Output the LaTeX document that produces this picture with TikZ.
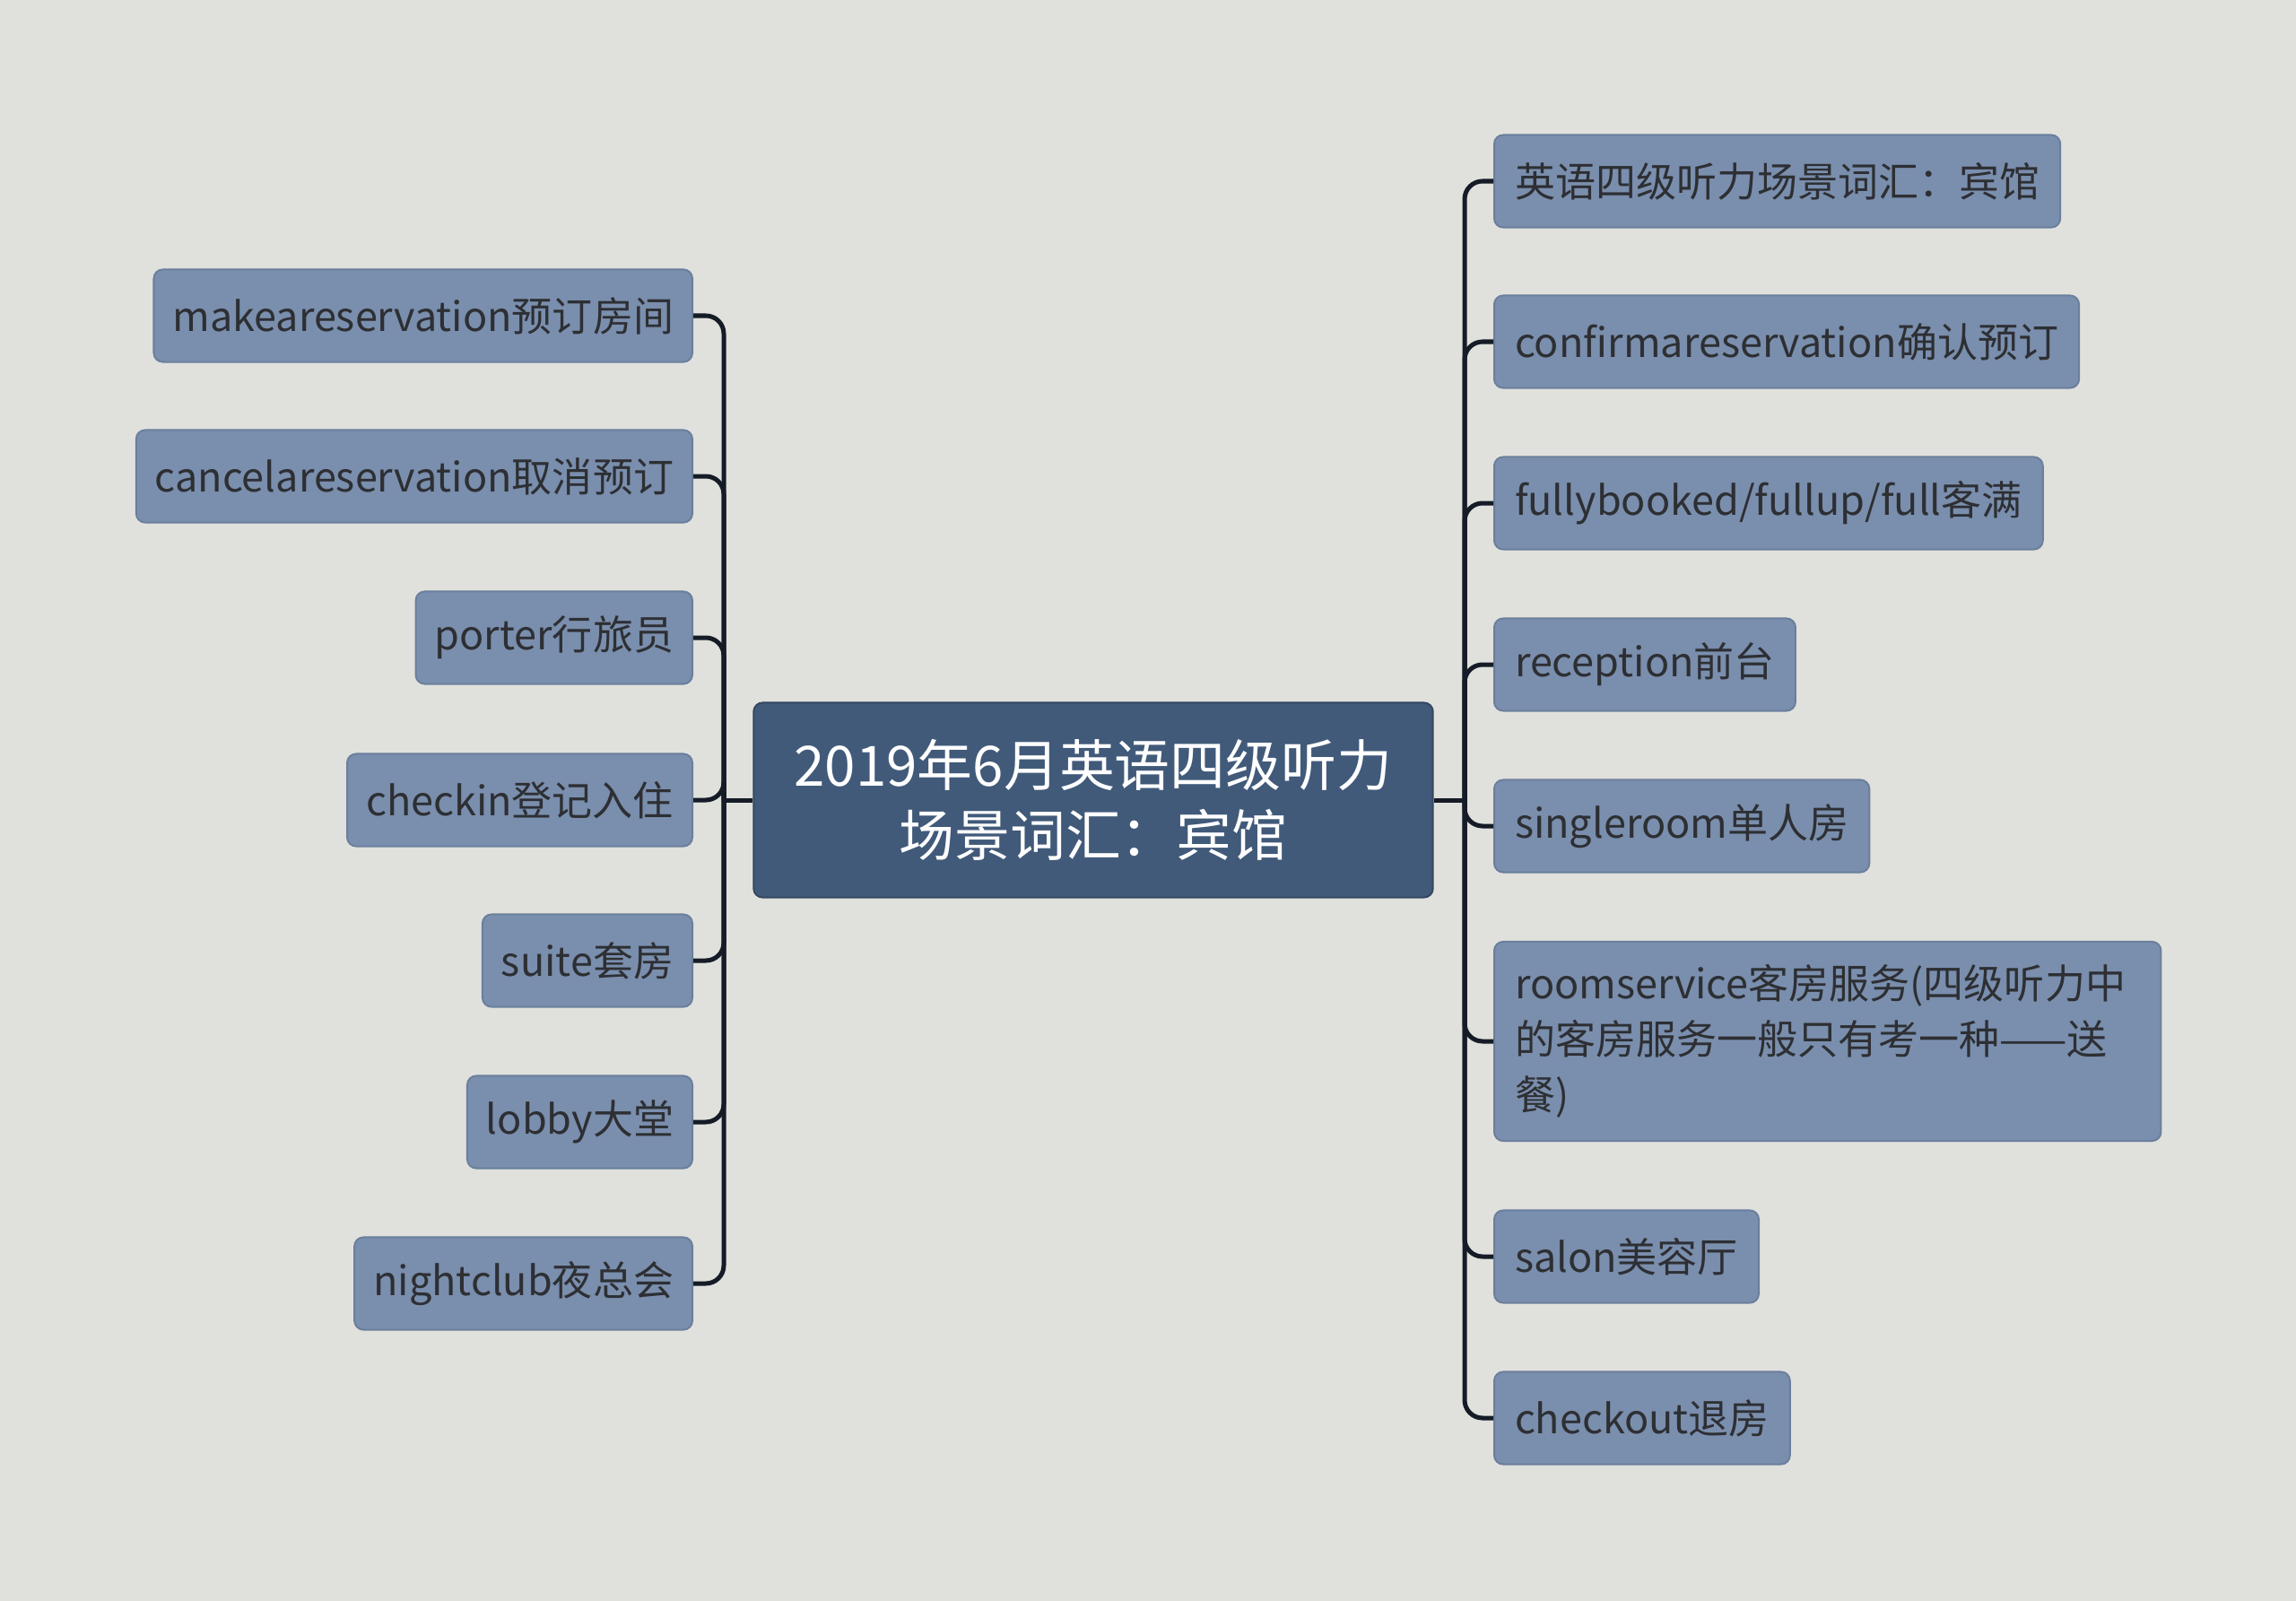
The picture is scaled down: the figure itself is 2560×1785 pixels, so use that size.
\documentclass[tikz,border=0pt]{standalone}
\usepackage{fontspec}
\setmainfont{Noto Sans CJK SC}
\usepackage{xcolor}
\usepackage{tikz}

\definecolor{bgcol}{HTML}{E0E1DC}
\definecolor{leafcol}{HTML}{7A8EAD}
\definecolor{leafline}{HTML}{6B7F9D}
\definecolor{leaftext}{HTML}{2D2F33}
\definecolor{rootcol}{HTML}{415A7A}
\definecolor{linkcol}{HTML}{151C27}

\tikzset{
  leaf/.style={rectangle, rounded corners=0.1cm, fill=leafcol, draw=leafline,
    line width=0.02cm, text=leaftext, inner xsep=0.23cm, inner ysep=0.1cm,
    minimum height=1.03cm, font=\fontsize{12.8pt}{17.6pt}\selectfont},
  leafl/.style={leaf, anchor=east, inner xsep=0.21cm},
  leafr/.style={leaf, anchor=west},
  link/.style={draw=linkcol, line width=0.05cm, rounded corners=0.2cm}
}

\begin{document}
\begin{tikzpicture}[x=0.01cm,y=-0.01cm]
    % Background
    \fill[bgcol] (0,0) rectangle (2560,1785);

    % Root
    \node[rectangle, rounded corners=0.1cm, fill=rootcol, draw=rootcol!80!black,
      line width=0.02cm, text=white, minimum width=7.57cm, minimum height=2.17cm,
      align=center, font=\fontsize{17.6pt}{22.2pt}\selectfont]
      (root) at (1219,892) {2019年6月英语四级听力\\场景词汇：宾馆};

    % Junctions
    \coordinate (jl) at (807,892);
    \coordinate (jr) at (1633,892);

    % Left branch
    \node[leafl] (reserve) at (773,352) {makeareservation预订房间};
    \node[leafl] (cancel) at (773,531) {cancelareservation取消预订};
    \node[leafl] (porter) at (773,711) {porter行旅员};
    \node[leafl] (checkin) at (773,892) {checkin登记入住};
    \node[leafl] (suite) at (773,1071) {suite套房};
    \node[leafl] (lobby) at (773,1251) {lobby大堂};
    \node[leafl] (club) at (773,1431) {nightclub夜总会};

    % Right branch
    \node[leafr] (title) at (1665,202) {英语四级听力场景词汇：宾馆};
    \node[leafr] (confirm) at (1665,381) {confirmareservation确认预订};
    \node[leafr] (full) at (1665,561) {fullybooked/fullup/full客满};
    \node[leafr] (recept) at (1665,741) {reception前台};
    \node[leafr] (single) at (1665,921) {singleroom单人房};
    \node[leafr, align=left, text width=6.97cm, minimum height=2.22cm] (service) at (1665,1161)
      {roomservice客房服务(四级听力中\\的客房服务一般只有考一种——送\\餐)};
    \node[leafr] (salon) at (1665,1401) {salon美容厅};
    \node[leafr] (checkout) at (1665,1581) {checkout退房};

    % Links
    \draw[link] (root.west) -- (jl);
    \draw[link] (root.east) -- (jr);
    \foreach \n in {reserve,cancel,porter,checkin,suite,lobby,club}
        \draw[link] (jl) |- (\n.east);
    \foreach \n in {title,confirm,full,recept,single,service,salon,checkout}
        \draw[link] (jr) |- (\n.west);
\end{tikzpicture}
\end{document}
